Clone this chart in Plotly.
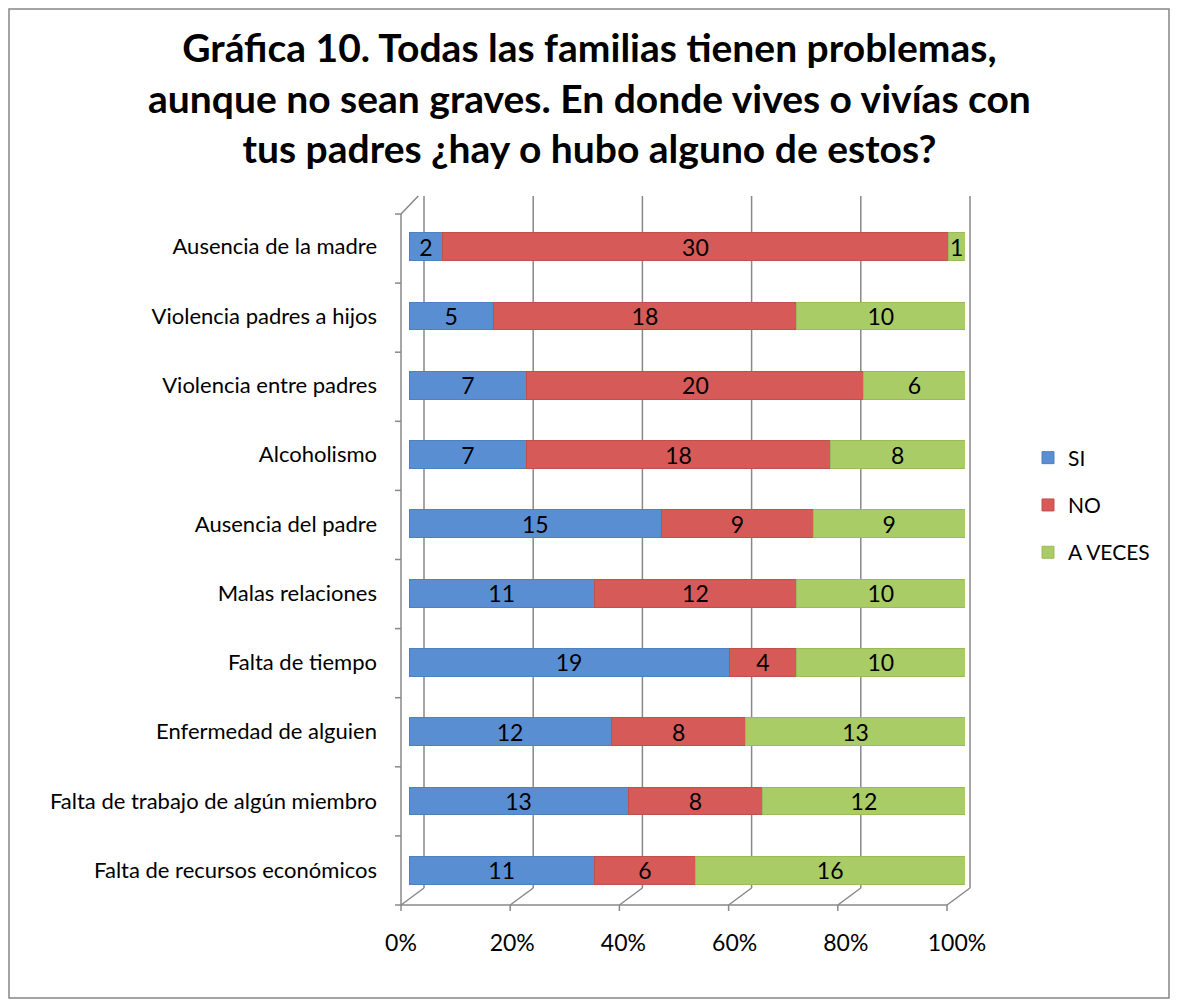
import plotly.graph_objects as go

categories = [
    "Ausencia de la madre",
    "Violencia padres a hijos",
    "Violencia entre padres",
    "Alcoholismo",
    "Ausencia del padre",
    "Malas relaciones",
    "Falta de tiempo",
    "Enfermedad de alguien",
    "Falta de trabajo de algún miembro",
    "Falta de recursos económicos",
]
si = [2, 5, 7, 7, 15, 11, 19, 12, 13, 11]
no = [30, 18, 20, 18, 9, 12, 4, 8, 8, 6]
a_veces = [1, 10, 6, 8, 9, 10, 10, 13, 12, 16]
tick_vals = [0, 20, 40, 60, 80, 100]
tick_text = ["0%", "20%", "40%", "60%", "80%", "100%"]

series = [
    ("SI", si, "#5A8ED3", "#4F81BD"),
    ("NO", no, "#D65A57", "#C0504D"),
    ("A VECES", a_veces, "#A9CC67", "#9BBB59"),
]

OFF = 8  # page body margin
W, H = 1178 - 2 * OFF, 1007 - 2 * OFF
# plot area in page px
PL, PR, PT, PB = 409, 965, 212, 905
L, R, T, B = PL - OFF, PR - OFF, PT - OFF, PB - OFF
FONT = "Lato"

fig = go.Figure()
for name, vals, col, lcol in series:
    fig.add_trace(go.Bar(
        y=categories, x=vals, name=name, orientation="h",
        marker=dict(color=col, line=dict(color=lcol, width=1)),
        text=[str(v) for v in vals], textposition="inside",
        insidetextanchor="middle", textangle=0,
        textfont=dict(color="black", size=23, family=FONT),
        constraintext="none", legendgroup=name,
    ))

def px_x(p):
    return (p - PL) / (PR - PL)

def px_y(p):
    return (PB - p) / (PB - PT)

grey = "#888888"
shapes = []
def line(x0, y0, x1, y1, w=1.5, c=grey):
    shapes.append(dict(type="line", xref="paper", yref="paper",
                       x0=px_x(x0), y0=px_y(y0), x1=px_x(x1), y1=px_y(y1),
                       line=dict(color=c, width=w), layer="below"))

front0, front_step = 401, 109.2
dx, dy = 23, -17
back_top = 196
for i in range(len(tick_vals)):
    fx = front0 + i * front_step
    line(fx, PB, fx + dx, PB + dy)
    line(fx + dx, PB + dy, fx + dx, back_top)
    line(fx, PB, fx, PB + 6)
line(front0, PB, front0 + 5 * front_step, PB)
line(front0, PB, front0, PT + 2)
line(front0, PT + 2, front0 + dx * 0.75, back_top)
for k in range(len(categories) + 1):
    yy = PB - k * (PB - PT - 2) / len(categories)
    line(front0 - 6, yy, front0, yy)
# outer chart border (as close to the page edges as the figure allows)
shapes.append(dict(type="rect", xref="paper", yref="paper",
                   x0=px_x(OFF + 1), x1=px_x(OFF + W - 1),
                   y0=px_y(OFF + H - 1), y1=px_y(OFF + 1),
                   line=dict(color="#868686", width=1.5), layer="below"))

title_text = ("<b>Gráfica 10. Todas las familias tienen problemas,<br>"
              "aunque no sean graves. En donde vives o vivías con<br>"
              "tus padres ¿hay o hubo alguno de estos?</b>")

fig.update_layout(
    width=W, height=H,
    margin=dict(l=L, r=W - R, t=T, b=H - B, pad=0),
    paper_bgcolor="white", plot_bgcolor="rgba(0,0,0,0)",
    barmode="stack", barnorm="percent", bargap=0.6,
    font=dict(family=FONT, color="black"),
    xaxis=dict(range=[0, 100], tickvals=tick_vals, ticktext=tick_text,
               showgrid=False, zeroline=False, showline=False, ticks="",
               tickfont=dict(size=23), ticklabelstandoff=22,
               ticklabelshift=-8),
    yaxis=dict(categoryorder="array", categoryarray=categories,
               autorange="reversed", showgrid=False, zeroline=False,
               showline=False, ticks="", tickfont=dict(size=22),
               ticklabelstandoff=31),
    legend=dict(x=px_x(1028), y=px_y(505), xanchor="left", yanchor="middle",
                font=dict(size=21), traceorder="grouped", tracegroupgap=17,
                bgcolor="rgba(0,0,0,0)"),
    shapes=shapes,
    annotations=[dict(text=title_text, x=px_x(589), y=px_y(97),
                      xref="paper", yref="paper", xanchor="center",
                      yanchor="middle", showarrow=False, align="center",
                      font=dict(size=39, family=FONT, color="black"))],
)

fig.write_html("out.html")
